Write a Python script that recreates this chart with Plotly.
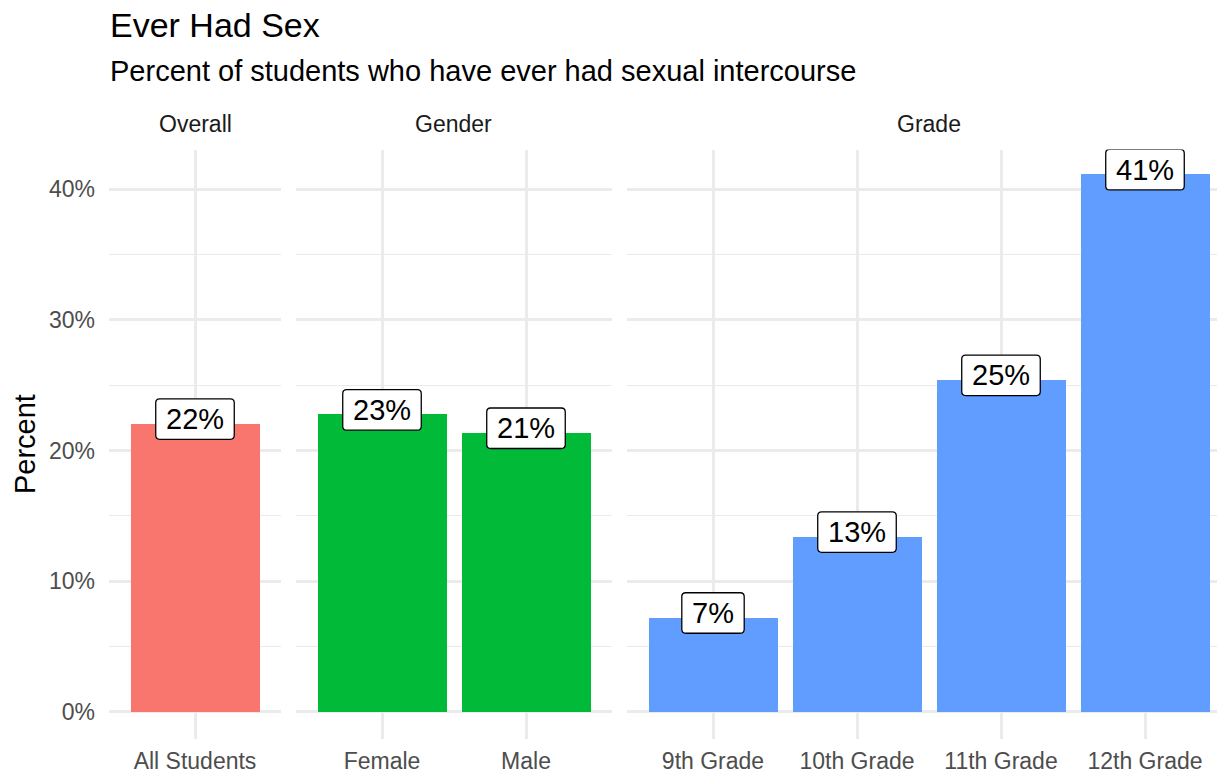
import plotly.graph_objects as go

# ---------------- data ----------------
title = "Ever Had Sex"
subtitle = "Percent of students who have ever had sexual intercourse"
y_title = "Percent"
facets = ["Overall", "Gender", "Grade"]
overall_cats = ["All Students"]
overall_vals = [22.1]
gender_cats = ["Female", "Male"]
gender_vals = [22.8, 21.4]
grade_cats = ["9th Grade", "10th Grade", "11th Grade", "12th Grade"]
grade_vals = [7.25, 13.45, 25.45, 41.2]
facet_colors = ["#F8766D", "#00BA38", "#619CFF"]
y_tickvals = [0, 10, 20, 30, 40]
y_ticktext = ["0%", "10%", "20%", "30%", "40%"]
y_minor = [5, 15, 25, 35]

panels = [
    (facets[0], overall_cats, overall_vals, facet_colors[0]),
    (facets[1], gender_cats, gender_vals, facet_colors[1]),
    (facets[2], grade_cats, grade_vals, facet_colors[2]),
]

# ---------------- layout constants ----------------
VW, VH = 1225, 774     # viewport
OFF = 8                # default page body margin
W, H = VW - OFF, VH - OFF
FONT = "Liberation Sans, Arial, Helvetica, sans-serif"


def fx(px):
    return (px - OFF) / W


def fy(py):
    return 1 - (py - OFF) / H


unit = 144.0          # px per category
expand = 0.6          # discrete expansion
gap = 14.2            # px between panels
left0 = 108.6
ybot_px, ytop_px = 738.6, 149.5
y_range = [-2.06, 43.05]
grid = "#EBEBEB"

fig = go.Figure()
layout_axes = {}
annotations = []
shapes = []

start = left0
for i, (facet, cats, vals, color) in enumerate(panels):
    n = len(cats)
    end = start + (n - 1 + 2 * expand) * unit
    end_c = min(end, VW)
    sfx = "" if i == 0 else str(i + 1)
    xname, yname = "x" + sfx, "y" + sfx
    xs = list(range(n))
    fig.add_trace(go.Bar(
        x=xs, y=vals, width=0.9, marker_color=color, marker_line_width=0,
        xaxis=xname, yaxis=yname, hoverinfo="skip", showlegend=False,
    ))
    layout_axes["xaxis" + sfx] = dict(
        domain=[fx(start), fx(end_c)],
        range=[-expand, -expand + (end_c - start) / unit],
        tickvals=xs, ticktext=cats, anchor=yname,
        showgrid=True, gridcolor=grid, gridwidth=2.7,
        zeroline=False, showline=False,
        ticks="outside", ticklen=1.5, tickcolor="rgba(0,0,0,0)",
        tickfont=dict(family=FONT, size=23, color="#4D4D4D"),
        automargin=False, fixedrange=True,
    )
    yax = dict(
        domain=[fy(ybot_px), fy(ytop_px)],
        range=y_range, anchor=xname,
        tickvals=y_tickvals, ticktext=y_ticktext,
        showgrid=True, gridcolor=grid, gridwidth=2.7,
        minor=dict(tickvals=y_minor, showgrid=True, gridcolor=grid, gridwidth=1.4, ticks=""),
        zeroline=False, showline=False,
        ticks="outside", ticklen=8, tickcolor="rgba(0,0,0,0)",
        tickfont=dict(family=FONT, size=23, color="#4D4D4D"),
        automargin=False, fixedrange=True,
    )
    if i > 0:
        yax["matches"] = "y"
        yax["showticklabels"] = False
    layout_axes["yaxis" + sfx] = yax

    # strip label
    annotations.append(dict(
        text=facet, xref="paper", yref="paper",
        x=fx((start + end) / 2), y=fy(124), xanchor="center", yanchor="middle",
        showarrow=False, font=dict(family=FONT, size=23, color="#1A1A1A"),
    ))

    # value labels (rounded boxes + text)
    for xi, v in zip(xs, vals):
        txt = f"{round(v)}%"
        tw = (0.556 * (len(txt) - 1) + 0.889) * 29
        w, h, r, cy = tw + 20.5, 40.5, 4.0, 4.0
        x0, x1 = -w / 2, w / 2
        y0, y1 = cy - h / 2, cy + h / 2
        path = (
            f"M {x0 + r},{y0} L {x1 - r},{y0} Q {x1},{y0} {x1},{y0 + r} "
            f"L {x1},{y1 - r} Q {x1},{y1} {x1 - r},{y1} "
            f"L {x0 + r},{y1} Q {x0},{y1} {x0},{y1 - r} "
            f"L {x0},{y0 + r} Q {x0},{y0} {x0 + r},{y0} Z"
        )
        shapes.append(dict(
            type="path", path=path, xref=xname, yref=yname,
            xsizemode="pixel", ysizemode="pixel", xanchor=xi, yanchor=v,
            fillcolor="white", line=dict(color="black", width=1.3), layer="above",
        ))
        annotations.append(dict(
            text=txt, xref=xname, yref=yname, x=xi, y=v, yshift=cy,
            xanchor="center", yanchor="middle", showarrow=False,
            font=dict(family=FONT, size=29, color="black"),
        ))
    start = end + gap

# titles
annotations.append(dict(
    text=title, xref="paper", yref="paper", x=fx(108), y=fy(25),
    xanchor="left", yanchor="middle", showarrow=False,
    font=dict(family=FONT, size=34, color="black"),
))
annotations.append(dict(
    text=subtitle, xref="paper", yref="paper", x=fx(108), y=fy(71),
    xanchor="left", yanchor="middle", showarrow=False,
    font=dict(family=FONT, size=29, color="black"),
))
annotations.append(dict(
    text=y_title, xref="paper", yref="paper", x=fx(25), y=fy((ybot_px + ytop_px) / 2),
    xanchor="center", yanchor="middle", textangle=-90, showarrow=False,
    font=dict(family=FONT, size=29, color="black"),
))

fig.update_layout(
    width=W, height=H,
    margin=dict(l=0, r=0, t=0, b=0),
    paper_bgcolor="white", plot_bgcolor="white",
    bargap=0, showlegend=False,
    annotations=annotations, shapes=shapes,
    font=dict(family=FONT),
    **layout_axes,
)

fig.write_html("out.html")
